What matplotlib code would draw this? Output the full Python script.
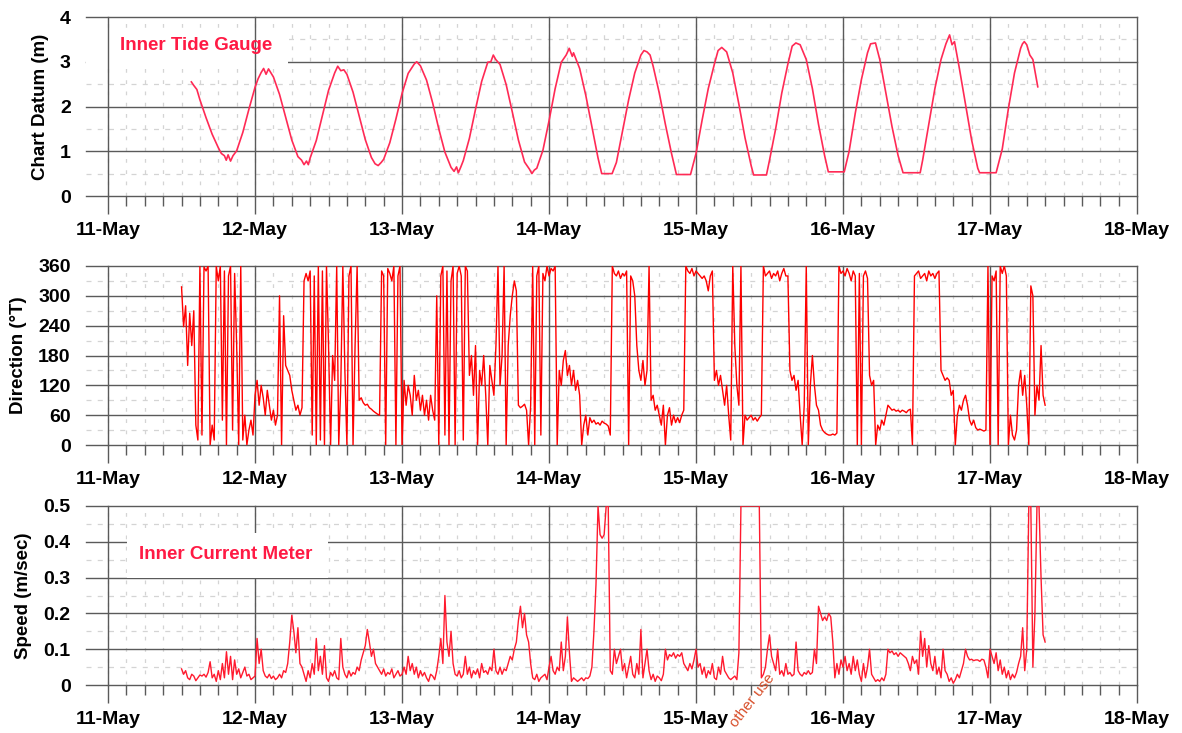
import numpy as np
import matplotlib
matplotlib.use("Agg")
import matplotlib.pyplot as plt
from matplotlib.patches import Rectangle
from matplotlib.ticker import FixedLocator

plt.rcParams['font.family'] = ['Liberation Sans', 'DejaVu Sans']
plt.rcParams['font.weight'] = 'bold'

# ---------------------------------------------------------------- data
day_labels = ["11-May", "12-May", "13-May", "14-May", "15-May", "16-May", "17-May", "18-May"]

# Inner tide gauge: hours after 11-May 00:00 and level above chart datum (m)
tide_hours = [13.6, 14, 14.5, 15, 16, 17, 18, 18.5, 19, 19.3, 19.6, 20, 20.4, 21, 22, 23, 24, 24.5, 25,
              25.4, 25.8, 26.2, 27, 28, 29, 30, 31, 31.6, 32, 32.4, 32.7, 33, 34, 35, 36, 37, 37.5, 38,
              38.5, 39, 40, 41, 42, 43, 43.6, 44.1, 44.6, 45, 46, 47, 48, 49, 50, 50.4, 51, 52, 53, 54,
              55, 56, 56.5, 56.9, 57.2, 57.6, 58, 59, 60, 61, 62, 62.5, 62.9, 63.3, 64, 65, 66, 67, 68,
              68.8, 69.2, 69.6, 70, 71, 72, 73, 74, 74.8, 75.3, 75.8, 76, 77, 78, 79, 80, 80.6, 82.3,
              83, 84, 85, 86, 87, 87.5, 88, 88.5, 89, 90, 91, 92, 92.8, 95.1, 96, 97, 98, 99, 99.6,
              100.2, 101, 102, 103, 104, 105, 105.4, 107.5, 108, 109, 110, 111, 111.7, 112.3, 113, 114,
              115, 116, 117, 117.6, 120.2, 121, 122, 123, 124, 124.5, 125.3, 126, 127, 128, 129, 129.8,
              132.6, 133, 134, 135, 136, 136.8, 137.4, 137.8, 138.2, 139, 140, 141, 142, 142.3, 145.0,
              146, 147, 148, 149, 149.3, 149.6, 150, 150.5, 151, 151.8]
tide_level = [2.55, 2.47, 2.38, 2.15, 1.75, 1.38, 1.08, 0.95, 0.90, 0.80, 0.92, 0.78, 0.90, 1.01, 1.42,
              1.94, 2.43, 2.62, 2.76, 2.85, 2.72, 2.84, 2.66, 2.27, 1.76, 1.25, 0.88, 0.80, 0.70, 0.78,
              0.70, 0.85, 1.24, 1.80, 2.36, 2.75, 2.90, 2.80, 2.82, 2.72, 2.32, 1.79, 1.26, 0.86, 0.72,
              0.68, 0.75, 0.82, 1.19, 1.72, 2.29, 2.74, 2.95, 3.00, 2.91, 2.59, 2.08, 1.50, 0.98, 0.64,
              0.55, 0.65, 0.52, 0.65, 0.79, 1.29, 1.94, 2.56, 2.99, 3.00, 3.15, 3.05, 2.94, 2.49, 1.88,
              1.25, 0.76, 0.60, 0.50, 0.58, 0.62, 1.02, 1.68, 2.40, 2.99, 3.15, 3.30, 3.12, 3.20, 2.85,
              2.25, 1.55, 0.85, 0.50, 0.50, 0.75, 1.45, 2.15, 2.75, 3.15, 3.25, 3.22, 3.15, 2.90, 2.30,
              1.60, 0.95, 0.48, 0.48, 0.95, 1.70, 2.40, 2.95, 3.25, 3.32, 3.22, 2.75, 2.05, 1.30, 0.68,
              0.47, 0.47, 0.80, 1.50, 2.30, 2.95, 3.35, 3.42, 3.38, 3.05, 2.40, 1.60, 0.90, 0.54, 0.54,
              1.00, 1.85, 2.60, 3.20, 3.40, 3.42, 3.05, 2.30, 1.55, 0.90, 0.52, 0.52, 0.80, 1.60, 2.40,
              3.05, 3.40, 3.60, 3.38, 3.45, 2.85, 2.05, 1.25, 0.62, 0.52, 0.52, 1.05, 1.95, 2.75, 3.30,
              3.40, 3.45, 3.38, 3.15, 3.05, 2.44]

# Inner current meter: 20-minute records starting 11-May 12:00
meter_start_hour = 12.0
meter_step_hours = 1.0 / 3.0

direction_deg = [
    318, 238, 280, 160, 265, 200, 270, 40, 10, 360, 20, 358, 350, 360, 0, 40, 10, 360,
    330, 360, 50, 350, 0, 340, 360, 30, 345, 200, 0, 360, 10, 60, 0, 30, 50, 20,
    100, 130, 80, 120, 95, 60, 110, 80, 50, 70, 40, 60, 300, 0, 260, 160, 150, 140,
    110, 90, 70, 80, 60, 75, 330, 345, 330, 350, 20, 340, 0, 360, 10, 350, 0, 360,
    200, 0, 180, 130, 360, 0, 120, 360, 150, 0, 340, 360, 0, 200, 360, 90, 95, 85,
    80, 82, 75, 72, 68, 65, 62, 60, 350, 340, 0, 355, 345, 330, 360, 0, 340, 360,
    0, 130, 80, 120, 100, 60, 140, 90, 110, 70, 100, 60, 90, 50, 100, 70, 50, 300,
    0, 340, 360, 20, 350, 0, 330, 360, 0, 345, 360, 340, 10, 360, 350, 140, 180, 100,
    200, 0, 150, 120, 180, 100, 0, 160, 130, 100, 200, 360, 120, 180, 360, 0, 200, 260,
    300, 330, 310, 80, 75, 78, 82, 70, 0, 80, 360, 0, 340, 360, 20, 345, 330, 360,
    340, 355, 350, 360, 0, 150, 120, 170, 190, 140, 160, 120, 150, 110, 130, 100, 0, 40,
    60, 20, 55, 45, 50, 42, 45, 40, 48, 44, 42, 38, 20, 360, 345, 340, 350, 335,
    345, 340, 350, 0, 340, 330, 300, 200, 150, 130, 170, 120, 150, 360, 90, 100, 70, 80,
    60, 40, 80, 0, 60, 75, 40, 60, 45, 55, 45, 60, 70, 360, 350, 345, 355, 340,
    350, 345, 340, 335, 340, 330, 310, 340, 350, 130, 150, 120, 140, 110, 80, 120, 60, 10,
    360, 200, 120, 80, 360, 0, 60, 50, 55, 60, 50, 55, 48, 55, 60, 360, 340, 345,
    350, 335, 345, 340, 350, 330, 345, 355, 340, 340, 150, 130, 140, 110, 130, 60, 0, 80,
    360, 0, 120, 180, 120, 80, 70, 40, 30, 25, 22, 20, 20, 22, 20, 24, 360, 345,
    350, 340, 355, 345, 330, 350, 340, 0, 345, 0, 340, 350, 335, 140, 120, 130, 0, 40,
    30, 50, 40, 60, 80, 75, 70, 72, 68, 70, 66, 70, 68, 65, 70, 72, 0, 340,
    345, 350, 335, 340, 345, 330, 350, 340, 345, 335, 345, 350, 150, 140, 130, 135, 130, 100,
    110, 0, 60, 80, 70, 90, 100, 80, 50, 40, 50, 35, 30, 32, 30, 28, 30, 360,
    0, 340, 330, 350, 0, 360, 345, 360, 340, 0, 60, 20, 10, 30, 120, 150, 100, 140,
    80, 0, 320, 300, 60, 120, 90, 200, 100, 80]

speed_ms = [
    0.045, 0.030, 0.040, 0.020, 0.015, 0.030, 0.025, 0.012, 0.020, 0.028, 0.025, 0.030,
    0.022, 0.035, 0.065, 0.020, 0.030, 0.010, 0.040, 0.015, 0.060, 0.020, 0.093, 0.030,
    0.080, 0.015, 0.070, 0.030, 0.045, 0.020, 0.035, 0.050, 0.025, 0.030, 0.015, 0.020,
    0.025, 0.130, 0.060, 0.100, 0.040, 0.025, 0.020, 0.030, 0.018, 0.025, 0.015, 0.020,
    0.030, 0.020, 0.040, 0.035, 0.060, 0.120, 0.195, 0.150, 0.090, 0.160, 0.060, 0.050,
    0.030, 0.010, 0.040, 0.020, 0.060, 0.030, 0.130, 0.040, 0.080, 0.030, 0.110, 0.020,
    0.010, 0.035, 0.025, 0.040, 0.020, 0.015, 0.130, 0.050, 0.030, 0.020, 0.040, 0.025,
    0.035, 0.030, 0.050, 0.040, 0.070, 0.090, 0.110, 0.155, 0.120, 0.080, 0.100, 0.060,
    0.050, 0.040, 0.030, 0.045, 0.025, 0.035, 0.030, 0.045, 0.020, 0.030, 0.040, 0.025,
    0.030, 0.050, 0.030, 0.080, 0.040, 0.060, 0.030, 0.050, 0.020, 0.040, 0.025, 0.035,
    0.020, 0.010, 0.030, 0.025, 0.015, 0.040, 0.080, 0.130, 0.060, 0.250, 0.120, 0.080,
    0.150, 0.060, 0.030, 0.025, 0.040, 0.020, 0.030, 0.080, 0.030, 0.050, 0.020, 0.040,
    0.030, 0.045, 0.020, 0.060, 0.035, 0.040, 0.030, 0.050, 0.040, 0.100, 0.040, 0.030,
    0.050, 0.030, 0.045, 0.040, 0.060, 0.080, 0.070, 0.100, 0.120, 0.180, 0.220, 0.160,
    0.200, 0.140, 0.120, 0.060, 0.020, 0.015, 0.030, 0.010, 0.020, 0.025, 0.030, 0.015,
    0.050, 0.080, 0.040, 0.030, 0.050, 0.040, 0.120, 0.040, 0.080, 0.190, 0.090, 0.010,
    0.020, 0.015, 0.010, 0.015, 0.020, 0.012, 0.020, 0.018, 0.025, 0.050, 0.150, 0.280,
    0.500, 0.420, 0.410, 0.420, 0.500, 0.500, 0.040, 0.030, 0.100, 0.060, 0.080, 0.100,
    0.040, 0.060, 0.020, 0.050, 0.080, 0.030, 0.020, 0.060, 0.030, 0.155, 0.020, 0.060,
    0.100, 0.040, 0.015, 0.030, 0.010, 0.025, 0.020, 0.012, 0.030, 0.100, 0.070, 0.085,
    0.080, 0.090, 0.075, 0.085, 0.080, 0.090, 0.060, 0.050, 0.040, 0.060, 0.045, 0.070,
    0.100, 0.050, 0.060, 0.030, 0.050, 0.020, 0.040, 0.030, 0.060, 0.020, 0.015, 0.050,
    0.030, 0.080, 0.040, 0.030, 0.020, 0.015, 0.020, 0.025, 0.015, 0.090, 0.500, 0.500,
    0.500, 0.500, 0.500, 0.500, 0.500, 0.500, 0.500, 0.500, 0.020, 0.030, 0.050, 0.100,
    0.140, 0.080, 0.060, 0.040, 0.100, 0.030, 0.040, 0.025, 0.060, 0.030, 0.035, 0.025,
    0.030, 0.120, 0.040, 0.030, 0.025, 0.035, 0.030, 0.040, 0.030, 0.035, 0.100, 0.060,
    0.220, 0.200, 0.180, 0.190, 0.180, 0.200, 0.190, 0.120, 0.020, 0.060, 0.030, 0.070,
    0.050, 0.080, 0.040, 0.060, 0.030, 0.080, 0.040, 0.070, 0.030, 0.010, 0.060, 0.020,
    0.050, 0.100, 0.030, 0.020, 0.010, 0.015, 0.010, 0.020, 0.012, 0.030, 0.100, 0.090,
    0.095, 0.085, 0.090, 0.080, 0.090, 0.085, 0.080, 0.075, 0.060, 0.040, 0.080, 0.060,
    0.070, 0.030, 0.150, 0.080, 0.130, 0.050, 0.110, 0.060, 0.040, 0.080, 0.030, 0.050,
    0.020, 0.100, 0.040, 0.030, 0.010, 0.020, 0.005, 0.015, 0.030, 0.020, 0.040, 0.060,
    0.100, 0.080, 0.070, 0.072, 0.068, 0.070, 0.070, 0.066, 0.072, 0.070, 0.050, 0.020,
    0.100, 0.080, 0.060, 0.090, 0.040, 0.070, 0.030, 0.050, 0.020, 0.040, 0.015, 0.030,
    0.020, 0.035, 0.060, 0.080, 0.160, 0.040, 0.100, 0.500, 0.500, 0.050, 0.200, 0.500,
    0.500, 0.300, 0.140, 0.120]

# ---------------------------------------------------------------- styling
GRID = '#5a5a5a'
FAINT = '#d4d4d4'
LABEL_RED = '#ff1a44'

tide_days = np.array(tide_hours) / 24.0
meter_days = (meter_start_hour + np.arange(len(direction_deg)) * meter_step_hours) / 24.0
speed_days = (meter_start_hour + np.arange(len(speed_ms)) * meter_step_hours) / 24.0

fig = plt.figure(figsize=(11.82, 7.33), dpi=100)
W, H = 1182.0, 733.0
left, right = 86, 1137


def make_axes(top_px, bottom_px):
    return fig.add_axes([left / W, 1 - bottom_px / H, (right - left) / W, (bottom_px - top_px) / H])


def style_axes(ax, ymax, ystep, ylabel, fmt):
    ax.set_xlim(-0.15, 7.0)
    ax.set_ylim(0, ymax)
    for s in ax.spines.values():
        s.set_visible(False)
    yt = np.arange(0, ymax + ystep / 2, ystep)
    ax.set_yticks(yt)
    ax.set_yticklabels([fmt(v) for v in yt])
    ax.set_xticks(range(8))
    ax.set_xticklabels(day_labels)
    ax.xaxis.set_minor_locator(FixedLocator([d / 8 for d in range(56) if d % 8]))
    ax.tick_params(axis='x', which='major', length=13, width=1.0, color=GRID, pad=6, labelsize=14)
    ax.tick_params(axis='x', which='minor', length=7, width=1.0, color=GRID)
    ax.tick_params(axis='y', length=0, pad=11, labelsize=14)
    # faint secondary grid
    for v in np.arange(ystep / 2, ymax, ystep):
        ax.axhline(v, color=FAINT, lw=0.9, ls=(0, (4, 5)), zorder=0.5)
    for d in np.arange(0, 7, 1 / 8):
        ax.axvline(d, color=FAINT, lw=0.9, ls=(0, (3, 6)), zorder=0.5)
    for v in yt:
        ax.axhline(v, color=GRID, lw=1.0, zorder=1, clip_on=False)
    ax.set_ylabel(ylabel, fontsize=13.5, fontweight='bold', labelpad=8)


# ---- tide level
ax1 = make_axes(17, 196)
style_axes(ax1, 4, 1, "Chart Datum (m)", lambda v: f"{v:g}")
ax1.add_patch(Rectangle((0, 0.72), 0.192, 0.21, transform=ax1.transAxes,
                        facecolor='white', edgecolor='none', zorder=2))
for d in range(8):
    ax1.axvline(d, color=GRID, lw=1.0, zorder=3, clip_on=False)
ax1.plot(tide_days, tide_level, color='#ff2a55', lw=1.2, zorder=4)
ax1.text(0.032, 0.84, "Inner Tide Gauge", transform=ax1.transAxes, color=LABEL_RED,
         fontsize=13.5, fontweight='bold', va='center', ha='left', zorder=5)

# ---- current direction
ax2 = make_axes(266, 445)
style_axes(ax2, 360, 60, "Direction (°T)", lambda v: f"{v:g}")
for d in range(8):
    ax2.axvline(d, color=GRID, lw=1.0, zorder=3, clip_on=False)
ax2.plot(meter_days, direction_deg, color='#ff0000', lw=1.0, zorder=4)

# ---- current speed
ax3 = make_axes(506, 685)
style_axes(ax3, 0.5, 0.1, "Speed (m/sec)", lambda v: "0" if v == 0 else f"{v:.1f}")
for d in range(8):
    ax3.axvline(d, color=GRID, lw=1.0, zorder=1.5, clip_on=False)
ax3.add_patch(Rectangle((0.039, 0.60), 0.191, 0.25, transform=ax3.transAxes,
                        facecolor='white', edgecolor='none', zorder=2))
ax3.plot(speed_days, speed_ms, color='#ff1a2e', lw=1.0, zorder=4)
ax3.text(0.050, 0.73, "Inner Current Meter", transform=ax3.transAxes, color=LABEL_RED,
         fontsize=13.5, fontweight='bold', va='center', ha='left', zorder=5)

fig.text(752 / W, 1 - 700 / H, "other use", rotation=52, color='#d8502c', fontsize=11,
         fontweight='normal', ha='center', va='center')

fig.savefig("out.png", dpi=100, facecolor='white')
